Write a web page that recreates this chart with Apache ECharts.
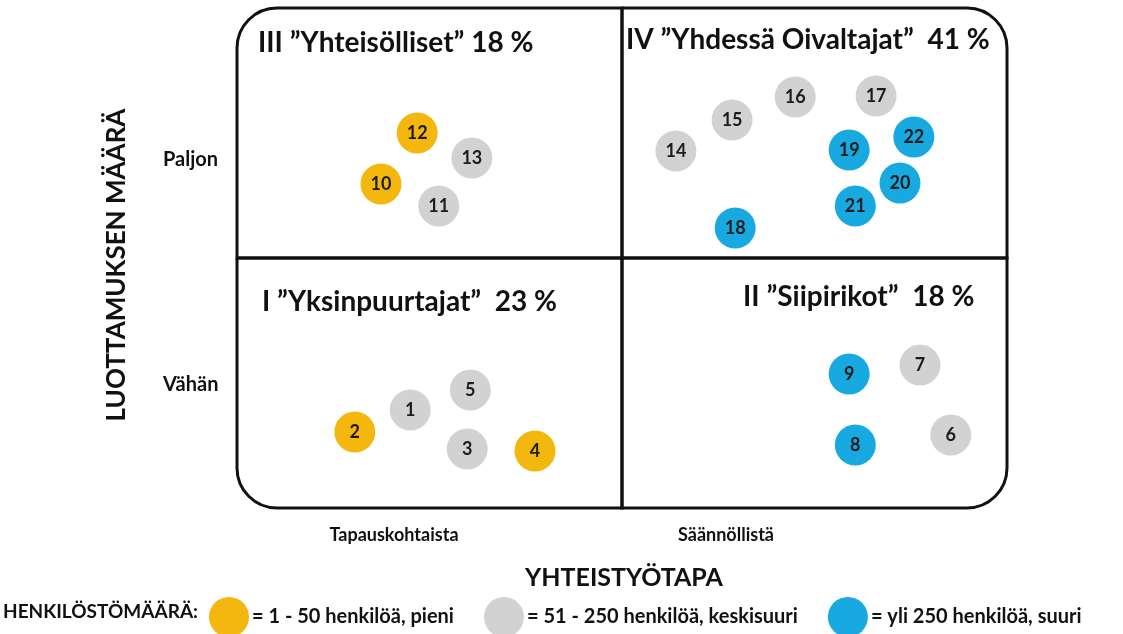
<!DOCTYPE html>
<html>
<head>
<meta charset="utf-8">
<script src="https://cdn.jsdelivr.net/npm/echarts@6/dist/echarts.min.js"></script>
<style>
  html, body { margin: 0; padding: 0; background: #fff; }
  #chart { width: 1123px; height: 634px; }
</style>
</head>
<body>
<div id="chart"></div>
<script>
// yritykset: numero, sijainti (yhteistyötapa, luottamus) ja kokoluokka
var ids = ['1','2','3','4','5','6','7','8','9','10','11','12','13','14','15','16','17','18','19','20','21','22'];
var xVals = [2.25, 1.53, 2.99, 3.87, 3.03, 9.27, 8.87, 8.03, 7.95, 1.87, 2.62, 2.34, 3.05, 5.70, 6.43, 7.25, 8.30, 6.47, 7.95, 8.61, 8.03, 8.79];
var yVals = [1.96, 1.52, 1.18, 1.14, 2.36, 1.46, 2.86, 1.26, 2.68, 6.48, 6.04, 7.50, 7.00, 7.14, 7.76, 8.22, 8.24, 5.60, 7.16, 6.50, 6.04, 7.42];
var sizeGroup = [1, 0, 1, 0, 1, 1, 1, 2, 2, 0, 1, 0, 1, 1, 1, 1, 1, 2, 2, 2, 2, 2];

var groupNames = ['= 1 - 50 henkilöä, pieni', '= 51 - 250 henkilöä, keskisuuri', '= yli 250 henkilöä, suuri'];
var groupColors = ['#F4B70E', '#D2D2D2', '#18A9E0'];

var quadrantTitles = ['III \u201dYhteisölliset\u201d 18 %', 'IV \u201dYhdessä Oivaltajat\u201d  41 %',
                      'I \u201dYksinpuurtajat\u201d  23 %', 'II \u201dSiipirikot\u201d  18 %'];
var yLevels = ['Paljon', 'Vähän'];
var xLevels = ['Tapauskohtaista', 'Säännöllistä'];

var FONT = 'Lato';

var c = document.getElementById('chart');
var myChart = echarts.init(c);

var series = groupNames.map(function (name, g) {
	var pts = [];
	for (var i = 0; i < ids.length; i++) {
		if (sizeGroup[i] === g) pts.push({ name: ids[i], value: [xVals[i], yVals[i]] });
	}
	return {
		name: name,
		type: 'scatter',
		symbol: 'circle',
		symbolSize: 41,
		z: 5,
		itemStyle: { color: groupColors[g], opacity: 1 },
		label: {
			show: true,
			position: 'inside',
			formatter: '{b}',
			fontFamily: FONT,
			fontWeight: 'bold',
			fontSize: 18,
			color: '#1c1c1c'
		},
		emphasis: { disabled: true },
		data: pts
	};
});

var option = {
	animation: false,
	grid: { left: 237, right: 116, top: 8, bottom: 126 },
	xAxis: { type: 'value', min: 0, max: 10, show: false },
	yAxis: { type: 'value', min: 0, max: 10, show: false },
	legend: {
		left: 204,
		top: 592,
		icon: 'circle',
		itemWidth: 40,
		itemHeight: 40,
		itemGap: 30,
		selectedMode: false,
		textStyle: { fontFamily: FONT, fontWeight: 'bold', fontSize: 20, color: '#111', padding: [0, 0, 0, -2] },
		data: groupNames
	},
	series: series
};
myChart.setOption(option);

// nelikentän laatikot ja tekstit akselien mittakaavan kautta
function px(x, y) { return myChart.convertToPixel({ gridIndex: 0 }, [x, y]); }
var R = 40;
var boxes = [
	{ a: [0, 10], b: [5, 5], r: [R, 0, 0, 0] },
	{ a: [5, 10], b: [10, 5], r: [0, R, 0, 0] },
	{ a: [0, 5], b: [5, 0], r: [0, 0, 0, R] },
	{ a: [5, 5], b: [10, 0], r: [0, 0, R, 0] }
];
var graphics = boxes.map(function (bx) {
	var p1 = px(bx.a[0], bx.a[1]), p2 = px(bx.b[0], bx.b[1]);
	return {
		type: 'rect',
		z: 1,
		shape: { x: p1[0], y: p1[1], width: p2[0] - p1[0], height: p2[1] - p1[1], r: bx.r },
		style: { fill: 'none', stroke: '#111', lineWidth: 3 }
	};
});

var titleStyle = { fontFamily: FONT, fontWeight: 'bold', fontSize: 28, fill: '#111', textVerticalAlign: 'middle' };
var titlePos = [[258, 43], [626, 40], [262, 302], [743, 297]];
quadrantTitles.forEach(function (t, i) {
	graphics.push({ type: 'text', z: 6, x: titlePos[i][0], y: titlePos[i][1],
		style: Object.assign({ text: t }, titleStyle) });
});

var smallStyle = { fontFamily: FONT, fontWeight: 'bold', fontSize: 18, fill: '#111', textVerticalAlign: 'middle' };
graphics.push({ type: 'text', x: 163, y: 160, style: Object.assign({ text: yLevels[0], fontSize: 20 }, smallStyle, { fontSize: 20 }) });
graphics.push({ type: 'text', x: 163, y: 385, style: Object.assign({ text: yLevels[1] }, smallStyle, { fontSize: 20 }) });
graphics.push({ type: 'text', x: 394, y: 535, style: Object.assign({ text: xLevels[0], textAlign: 'center' }, smallStyle) });
graphics.push({ type: 'text', x: 726, y: 535, style: Object.assign({ text: xLevels[1], textAlign: 'center' }, smallStyle) });

graphics.push({ type: 'text', x: 624, y: 578,
	style: { text: 'YHTEISTYÖTAPA', fontFamily: FONT, fontWeight: 'bold', fontSize: 25, fill: '#111', textAlign: 'center', textVerticalAlign: 'middle' } });
graphics.push({ type: 'text', x: 117, y: 265, rotation: Math.PI / 2,
	style: { text: 'LUOTTAMUKSEN MÄÄRÄ', fontFamily: FONT, fontWeight: 'bold', fontSize: 26, fill: '#111', textAlign: 'center', textVerticalAlign: 'middle' } });
graphics.push({ type: 'text', x: 3, y: 612,
	style: { text: 'HENKILÖSTÖMÄÄRÄ:', fontFamily: FONT, fontWeight: 'bold', fontSize: 19, fill: '#111', textVerticalAlign: 'middle' } });

myChart.setOption({ graphic: graphics });
</script>
</body>
</html>
